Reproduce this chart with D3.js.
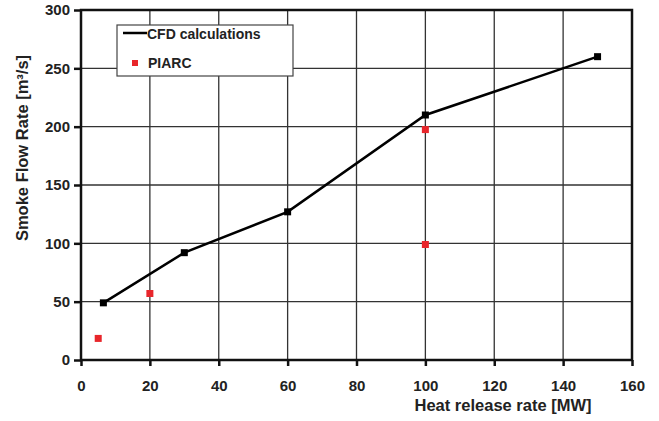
<!DOCTYPE html>
<html><head><meta charset="utf-8">
<script src="https://cdn.jsdelivr.net/npm/d3@7"></script>
<style>body{margin:0;background:#fff}svg{display:block}text{font-family:"Liberation Sans",Arial,sans-serif;font-weight:bold;fill:#222}</style>
</head><body>
<script>
const cfdX = [6.5, 30, 60, 100, 150];
const cfdY = [49, 92, 127, 210, 260];
const piarcX = [5, 20, 100, 100];
const piarcY = [18.5, 57, 197.5, 99];
const xTicks = [0, 20, 40, 60, 80, 100, 120, 140, 160];
const yTicks = [0, 50, 100, 150, 200, 250, 300];

const W = 659, H = 421;
const m = {l: 81, r: 27, t: 10, b: 61};
const svg = d3.select("body").append("svg").attr("width", W).attr("height", H);
const x = d3.scaleLinear().domain([0, 160]).range([m.l, W - m.r]);
const y = d3.scaleLinear().domain([0, 300]).range([H - m.b, m.t]);

// grid
svg.append("g").selectAll("line").data(xTicks.slice(1, -1)).join("line")
  .attr("x1", d => x(d)).attr("x2", d => x(d)).attr("y1", y(0)).attr("y2", y(300))
  .attr("stroke", "#333").attr("stroke-width", 1.3);
svg.append("g").selectAll("line").data(yTicks.slice(1, -1)).join("line")
  .attr("x1", x(0)).attr("x2", x(160)).attr("y1", d => y(d)).attr("y2", d => y(d))
  .attr("stroke", "#333").attr("stroke-width", 1.3);

// frame
svg.append("rect").attr("x", x(0)).attr("y", y(300)).attr("width", x(160) - x(0)).attr("height", y(0) - y(300))
  .attr("fill", "none").attr("stroke", "#111").attr("stroke-width", 2.5);

// axes
const xa = svg.append("g").attr("transform", `translate(0,${y(0)})`)
  .call(d3.axisBottom(x).tickValues(xTicks).tickSize(6).tickPadding(14).tickFormat(d3.format("d")));
const ya = svg.append("g").attr("transform", `translate(${x(0)},0)`)
  .call(d3.axisLeft(y).tickValues(yTicks).tickSize(7).tickPadding(4).tickFormat(d3.format("d")));
[xa, ya].forEach(a => {
  a.select(".domain").remove();
  a.selectAll(".tick line").attr("stroke", "#111").attr("stroke-width", 2.5);
  a.selectAll(".tick text").attr("font-size", 15).attr("fill", "#222")
    .style("font-family", '"Liberation Sans",Arial,sans-serif').style("font-weight", "bold");
});

// CFD line
const pts = cfdX.map((v, i) => [v, cfdY[i]]);
svg.append("path").datum(pts)
  .attr("d", d3.line().x(d => x(d[0])).y(d => y(d[1])))
  .attr("fill", "none").attr("stroke", "#000").attr("stroke-width", 2.5);
svg.append("g").selectAll("rect").data(pts).join("rect")
  .attr("x", d => x(d[0]) - 3.5).attr("y", d => y(d[1]) - 3.5).attr("width", 7).attr("height", 7).attr("fill", "#000");

// PIARC
const pp = piarcX.map((v, i) => [v, piarcY[i]]);
svg.append("g").selectAll("rect").data(pp).join("rect")
  .attr("x", d => x(d[0]) - 3.5).attr("y", d => y(d[1]) - 3.5).attr("width", 7).attr("height", 7).attr("fill", "#e8262b");

// legend
const lg = svg.append("g");
lg.append("rect").attr("x", 117).attr("y", 25).attr("width", 176).attr("height", 51)
  .attr("fill", "#fff").attr("stroke", "#444").attr("stroke-width", 1.2);
lg.append("line").attr("x1", 123).attr("x2", 147).attr("y1", 33).attr("y2", 33).attr("stroke", "#000").attr("stroke-width", 2.5);
lg.append("text").attr("x", 147).attr("y", 38.5).attr("font-size", 14).text("CFD calculations");
lg.append("rect").attr("x", 132).attr("y", 60).attr("width", 6).attr("height", 6).attr("fill", "#e8262b");
lg.append("text").attr("x", 148).attr("y", 68).attr("font-size", 14).text("PIARC");

// axis titles
svg.append("text").attr("x", 503).attr("y", 411).attr("text-anchor", "middle").attr("font-size", 16.5)
  .text("Heat release rate [MW]");
svg.append("text").attr("transform", `translate(28,148) rotate(-90)`)
  .attr("text-anchor", "middle").attr("font-size", 16.5).text("Smoke Flow Rate [m³/s]");
</script>
</body></html>
